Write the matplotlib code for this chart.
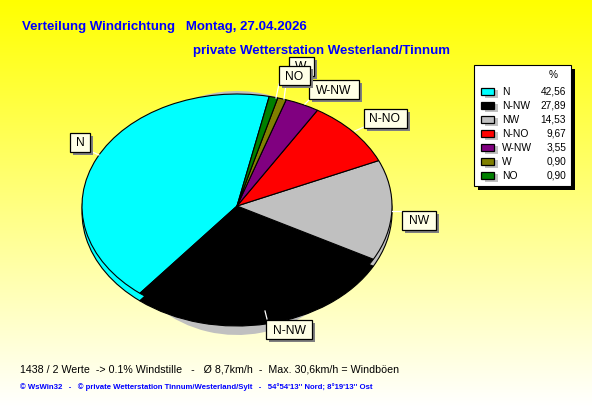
import numpy as np
import matplotlib
matplotlib.use("Agg")
import matplotlib.pyplot as plt
from matplotlib.colors import LinearSegmentedColormap

categories = ["N", "N-NW", "NW", "N-NO", "W-NW", "W", "NO"]
values = [42.56, 27.89, 14.53, 9.67, 3.55, 0.90, 0.90]
value_labels = ["42,56", "27,89", "14,53", "9,67", "3,55", "0,90", "0,90"]
colors = ["#00FFFF", "#000000", "#C0C0C0", "#FF0000", "#800080", "#808000", "#008000"]
# label boxes in px (centre x, centre y, width), order follows categories
label_box = [(80, 142, 20), (289, 329, 46), (419, 220, 34), (385, 118, 43), (334, 89, 50), (301, 66, 25), (294, 75, 31)]
leader_from = [(90, 151), (267, 319), (402, 211), (364, 127), (311, 98), (286, 84), (279, 84)]
leader_to = [(99, 155), (265, 311), (392, 211), (355, 131), (305, 104), (284, 99), (276, 98)]

W, H = 592, 407
plt.rcParams["font.family"] = ["Liberation Sans", "DejaVu Sans"]

fig = plt.figure(figsize=(W / 100, H / 100), dpi=100)
bg = fig.add_axes([0, 0, 1, 1])
cmap = LinearSegmentedColormap.from_list("y", ["#FFFF00", "#FFFFFF"])
bg.imshow(np.linspace(0, 1, 256)[:, None], aspect="auto", cmap=cmap, extent=(0, W, H, 0), zorder=0)
bg.set_xlim(0, W)
bg.set_ylim(H, 0)
bg.axis("off")


def pie_axes(cx, cy, rx, ry, z):
    a = fig.add_axes([(cx - 1.25 * rx) / W, 1 - (cy + 1.25 * ry) / H, 2.5 * rx / W, 2.5 * ry / H], zorder=z)
    a.patch.set_visible(False)
    return a


def draw_pie(a, cols, lw):
    a.pie(values, colors=cols, startangle=78, counterclock=True,
          wedgeprops=dict(edgecolor="black", linewidth=lw))
    a.set_aspect("auto")
    a.set_xlim(-1.25, 1.25)
    a.set_ylim(-1.25, 1.25)
    a.axis("off")


# grey part of the rim that peeks out above and below the disc
draw_pie(pie_axes(237, 213, 125, 122, 1), ["#C0C0C0"] * len(values), 0)
draw_pie(pie_axes(237, 212, 155, 114, 2), colors, 0.8)
draw_pie(pie_axes(237, 206, 155, 112, 3), colors, 0.8)

ov = fig.add_axes([0, 0, 1, 1], zorder=5)
ov.set_xlim(0, W)
ov.set_ylim(H, 0)
ov.axis("off")
ov.patch.set_visible(False)

# category labels with drop shadow, W first so NO overlaps it
for z, i in enumerate([5, 0, 1, 2, 3, 4, 6]):
    x, y, w = label_box[i]
    ov.plot(*zip(leader_from[i], leader_to[i]), color="white", lw=0.9, zorder=6 + 3 * z)
    ov.add_patch(plt.Rectangle((x - w / 2 + 3, y - 9.5 + 3), w, 19, fc="#808080", ec="none", zorder=6 + 3 * z))
    ov.add_patch(plt.Rectangle((x - w / 2, y - 9.5), w, 19, fc="#FFFFE6", ec="black", lw=0.9, zorder=7 + 3 * z))
    ov.text(x, y + 4.5, categories[i], fontsize=8.7, ha="center", va="baseline", color="black", zorder=8 + 3 * z)

# titles
ov.text(22, 30, "Verteilung Windrichtung   Montag, 27.04.2026", color="#0000FF", fontsize=9.5,
        fontweight="bold", va="baseline")
ov.text(193, 54, "private Wetterstation Westerland/Tinnum", color="#0000FF", fontsize=9.55,
        fontweight="bold", va="baseline")

# legend
ov.add_patch(plt.Rectangle((478, 69), 97, 121, fc="black", ec="black", lw=0, zorder=40))
ov.add_patch(plt.Rectangle((474, 65), 97, 121, fc="white", ec="black", lw=0.8, zorder=41))
ov.text(553, 78, "%", fontsize=7.3, ha="center", va="baseline", zorder=42)
for i, (c, n, v) in enumerate(zip(colors, categories, value_labels)):
    y = 91 + i * 14
    ov.add_patch(plt.Rectangle((485, y - 1), 13, 8, fc="#C0C0C0", ec="none", zorder=42))
    ov.add_patch(plt.Rectangle((481, y - 3.5), 13, 7, fc=c, ec="black", lw=0.9, zorder=43))
    ov.text(502, y + 4, n, fontsize=7.4, va="baseline", zorder=43)
    ov.text(566, y + 4, v, fontsize=7.3, ha="right", va="baseline", zorder=43)

# footer
ov.text(20, 373, "1438 / 2 Werte  -> 0.1% Windstille   -   \u00d8 8,7km/h  -  Max. 30,6km/h = Windb\u00f6en",
        fontsize=7.65, va="baseline", color="black")
ov.text(20, 389, "\u00a9 WsWin32   -   \u00a9 private Wetterstation Tinnum/Westerland/Sylt   -   54\u00b054'13'' Nord; 8\u00b019'13'' Ost",
        fontsize=5.55, va="baseline", color="#0000FF", fontweight="bold")

fig.savefig("out.png", dpi=100)
